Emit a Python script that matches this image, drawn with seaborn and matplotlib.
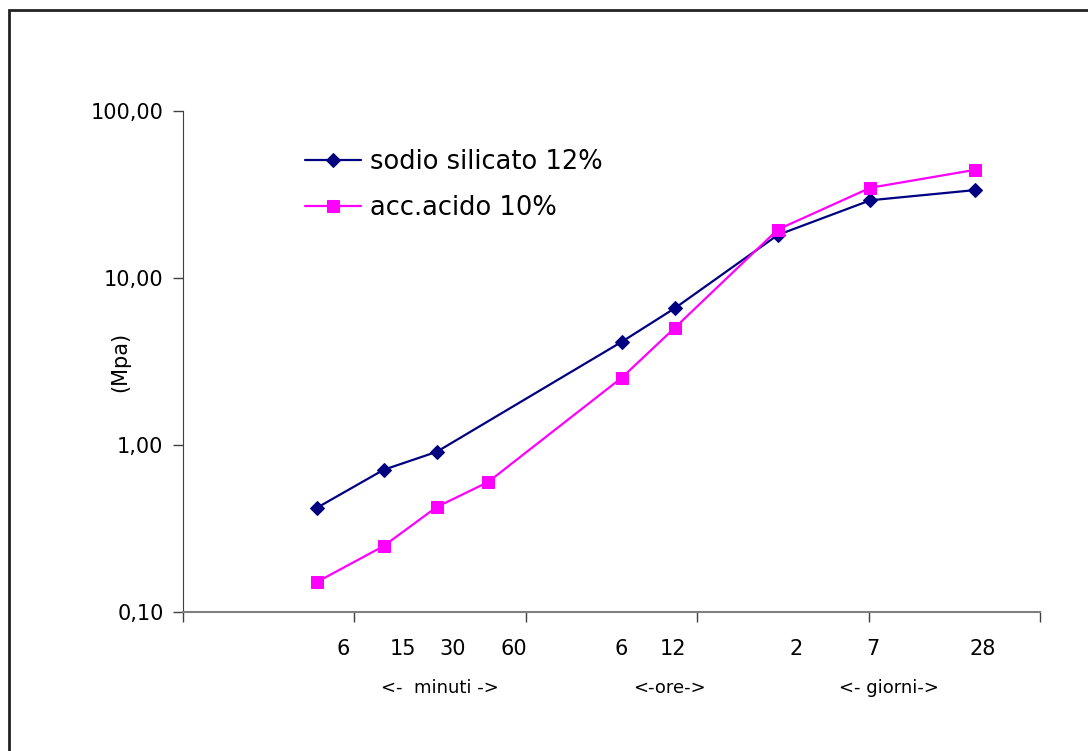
import numpy as np
import pandas as pd
import seaborn as sns
import matplotlib.pyplot as plt
from matplotlib.patches import Rectangle
from matplotlib.ticker import FixedLocator, NullLocator

sns.set_style('white')
plt.rcParams['font.family'] = ['DejaVu Sans']
plt.rcParams['text.color'] = 'black'
plt.rcParams['ytick.labelcolor'] = 'black'

# data (x on a 0-5 axis scale, y in MPa)
sodio_x = [0.78, 1.17, 1.48, 2.56, 2.87, 3.47, 4.01, 4.62]
sodio_y = [0.42, 0.71, 0.91, 4.15, 6.6, 18.1, 29.2, 33.6]
acido_x = [0.78, 1.17, 1.48, 1.78, 2.56, 2.87, 3.47, 4.01, 4.62]
acido_y = [0.151, 0.248, 0.425, 0.60, 2.53, 5.04, 19.5, 34.7, 44.4]

time_labels = ['6', '15', '30', '60', '6', '12', '2', '7', '28']
time_label_x = [0.934, 1.284, 1.575, 1.931, 2.555, 2.859, 3.576, 4.026, 4.667]
group_labels = ['<-  minuti ->', '<-ore->', '<- giorni->']
group_label_x = [1.50, 2.84, 4.12]

y_ticks = [0.1, 1, 10, 100]
y_ticklabels = ['0,10', '1,00', '10,00', '100,00']

fig = plt.figure(figsize=(10.88, 7.51), dpi=100)
ax = fig.add_axes([0.1682, 0.1851, 0.7877, 0.6671])

sns.lineplot(x=sodio_x, y=sodio_y, ax=ax, color='#000080', marker='D', markersize=7,
             markeredgecolor='#000080', linewidth=1.6, label='sodio silicato 12%')
sns.lineplot(x=acido_x, y=acido_y, ax=ax, color='#FF00FF', marker='s', markersize=9,
             markeredgecolor='#FF00FF', linewidth=1.6, label='acc.acido 10%')

ax.set_yscale('log')
ax.set_ylim(0.1, 100)
ax.set_xlim(0, 5)
ax.yaxis.set_major_locator(FixedLocator(y_ticks))
ax.yaxis.set_minor_locator(NullLocator())
ax.set_yticklabels(y_ticklabels, fontsize=15, color='black')
ax.set_xticks(range(6))
ax.set_xticklabels([])
ax.tick_params(axis='both', direction='out', length=7, width=1, color='#404040', bottom=True, left=True)
ax.tick_params(axis='y', pad=7)

for s in ['top', 'right']:
    ax.spines[s].set_visible(False)
ax.spines['left'].set_color('#404040')
ax.spines['bottom'].set_color('#808080')
ax.spines['bottom'].set_linewidth(1.5)

ax.set_xlabel('')
ax.set_ylabel('(Mpa)', fontsize=15, color='black')
ax.yaxis.set_label_coords(-0.062, 0.5)

trans = ax.get_xaxis_transform()
for lbl, xp in zip(time_labels, time_label_x):
    ax.text(xp, -0.074, lbl, transform=trans, ha='center', va='center', fontsize=15)
for lbl, xp in zip(group_labels, group_label_x):
    ax.text(xp, -0.152, lbl, transform=trans, ha='center', va='center', fontsize=13)

leg = ax.legend(loc='upper left', bbox_to_anchor=(0.13, 0.945), frameon=False, fontsize=18.5,
                handlelength=2.2, handletextpad=0.35, labelspacing=0.8, borderaxespad=0)
for t in leg.get_texts():
    t.set_color('black')

fig.patches.append(Rectangle((9 / 1088, -0.05), 1.1, 1.05 - 10 / 751, transform=fig.transFigure,
                             fill=False, edgecolor='#222222', linewidth=2))

fig.savefig('out.png', dpi=100)
